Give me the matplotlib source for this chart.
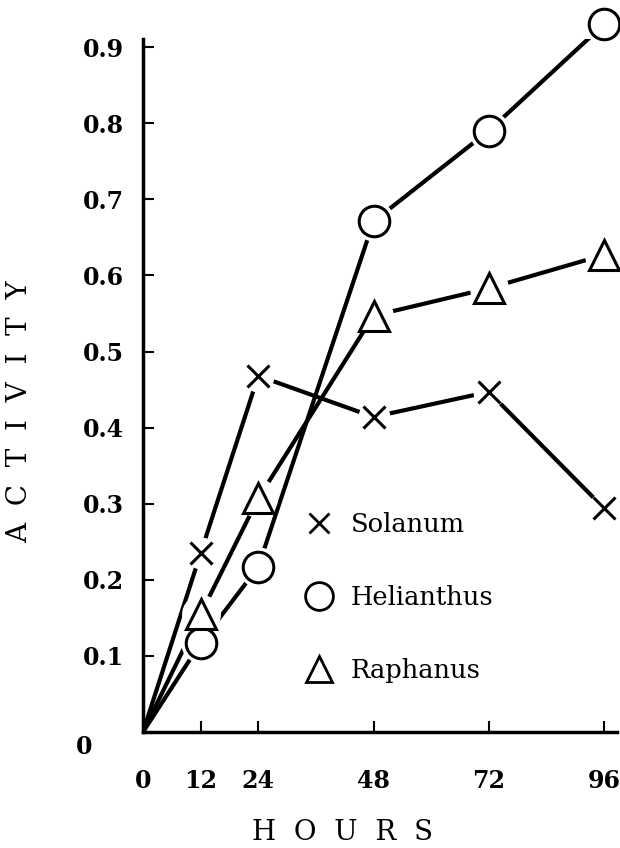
import matplotlib
matplotlib.use("Agg")
import matplotlib.pyplot as plt
from matplotlib.lines import Line2D
from matplotlib.transforms import blended_transform_factory

hours = [0, 12, 24, 48, 72, 96]
solanum = [0, 0.235, 0.468, 0.414, 0.447, 0.294]
helianthus = [0, 0.117, 0.217, 0.671, 0.790, 0.930]
raphanus = [0, 0.155, 0.307, 0.547, 0.583, 0.627]
xticks = [0, 12, 24, 48, 72, 96]
yticks = [0.1, 0.2, 0.3, 0.4, 0.5, 0.6, 0.7, 0.8, 0.9]

plt.rcParams['font.family'] = ['DejaVu Serif']

fig = plt.figure(figsize=(6.2, 8.48), dpi=100)
ax = fig.add_axes([143/620, (848-732)/848, 474/620, 0.91*761/848])
ax.set_xlim(0, 98.7)
ax.set_ylim(0, 0.91)

series = [
    (solanum, 'x', 'Solanum', 16),
    (helianthus, 'o', 'Helianthus', 22),
    (raphanus, '^', 'Raphanus', 21),
]
for ys, m, lab, ms in series:
    ax.plot(hours, ys, color='black', lw=3.0, zorder=2, solid_capstyle='butt')
    # white halo to create gaps around markers
    ax.plot(hours[1:], ys[1:], ls='none', marker='o', ms=ms + 6,
            mfc='white', mec='white', zorder=3, clip_on=False)
    ax.plot(hours[1:], ys[1:], ls='none', marker=m, ms=ms,
            mfc='white', mec='black', mew=2.2, zorder=4, clip_on=False)

for s in ['top', 'right']:
    ax.spines[s].set_visible(False)
for s in ['left', 'bottom']:
    ax.spines[s].set_linewidth(2.5)

ax.set_xticks(xticks)
ax.set_xticklabels([str(v) for v in xticks], fontsize=17, fontweight='bold')
ax.set_yticks(yticks)
ax.set_yticklabels([f"{v:.1f}" for v in yticks], fontsize=17, fontweight='bold')
ax.tick_params(axis='x', direction='in', length=8, width=1.5, pad=27)
ax.tick_params(axis='y', direction='in', length=8, width=1.5, pad=14)

tr = blended_transform_factory(ax.transAxes, ax.transData)
ax.text(-0.125, -0.02, '0', transform=tr, fontsize=17, fontweight='bold',
        ha='center', va='center')

fig.text(343/620, 1 - 832/848, 'H  O  U  R  S', fontsize=20,
         ha='center', va='center')
fig.text(20/620, 1 - 412/848, 'A  C  T  I  V  I  T  Y', fontsize=20,
         ha='center', va='center', rotation=90)

handles = [Line2D([], [], ls='none', marker=m, ms=ms, mfc='white', mec='black', mew=2.0)
           for m, ms in [('x', 15), ('o', 20), ('^', 19)]]
labels = [lab for _, _, lab, _ in series]
ax.legend(handles, labels, loc='upper left', bbox_to_anchor=(0.322, 0.332),
          frameon=False, fontsize=18.5, labelspacing=1.87, handletextpad=0.75,
          handlelength=1.0, borderaxespad=0)

fig.savefig('out.png', dpi=100)
